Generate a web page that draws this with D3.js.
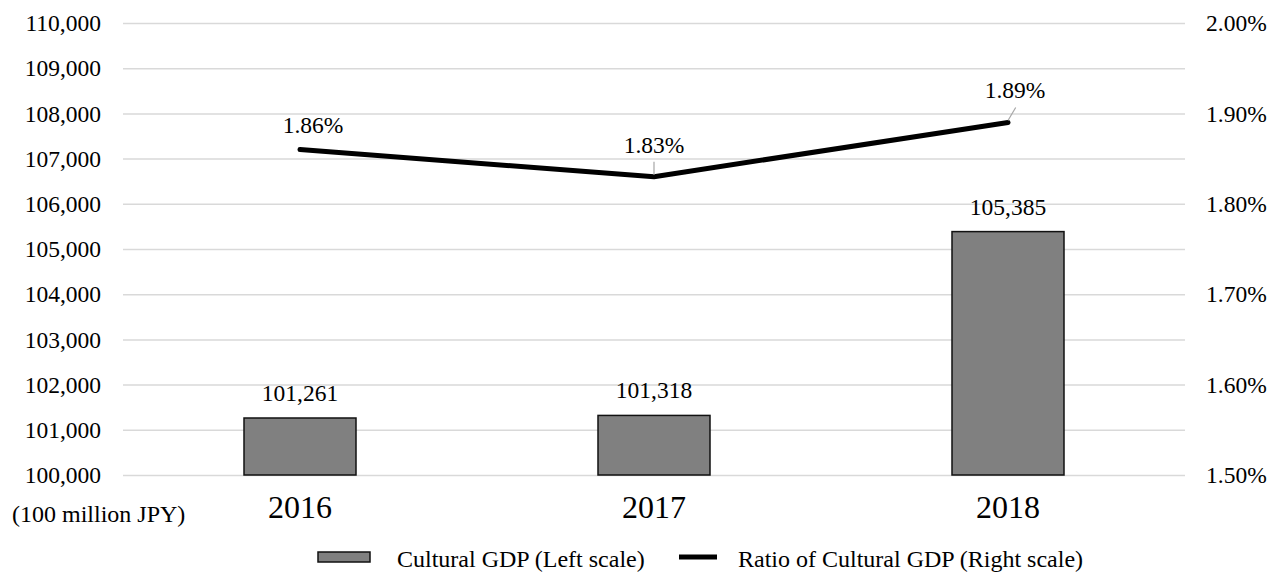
<!DOCTYPE html>
<html>
<head>
<meta charset="utf-8">
<script src="https://cdn.jsdelivr.net/npm/d3@7"></script>
<style>
  html, body { margin: 0; padding: 0; background: #fff; }
  svg { display: block; }
  svg text { font-family: "Liberation Serif", "Times New Roman", serif !important; }
</style>
</head>
<body>
<svg id="chart" width="1269" height="573"></svg>
<script>
// ---- data ----
const categories = ["2016", "2017", "2018"];
const gdpValues = [101261, 101318, 105385];
const ratioValues = [1.86, 1.83, 1.89];
const leftTicks = [100000, 101000, 102000, 103000, 104000, 105000, 106000, 107000, 108000, 109000, 110000];
const rightTicks = [1.5, 1.6, 1.7, 1.8, 1.9, 2.0];
const seriesNames = ["Cultural GDP (Left scale)", "Ratio of Cultural GDP (Right scale)"];
const unitLabel = "(100 million JPY)";

// ---- layout ----
const svg = d3.select("#chart");
const plot = { left: 123, right: 1185, top: 23, bottom: 475 };
const fs = 23.5;

const x = d3.scaleBand().domain(categories).range([plot.left, plot.right]).paddingInner(0).paddingOuter(0);
const yL = d3.scaleLinear().domain([100000, 110000]).range([plot.bottom, plot.top]);
const yR = d3.scaleLinear().domain([1.5, 2.0]).range([plot.bottom, plot.top]);

// gridlines
svg.append("g")
  .attr("transform", `translate(${plot.left},0)`)
  .call(d3.axisLeft(yL).tickValues(leftTicks).tickSize(-(plot.right - plot.left)).tickFormat(""))
  .call(g => g.select(".domain").remove())
  .call(g => g.selectAll("line").attr("stroke", "#d9d9d9").attr("stroke-width", 1.5));

// left axis labels
svg.append("g")
  .attr("transform", `translate(${plot.left - 22},0)`)
  .call(d3.axisLeft(yL).tickValues(leftTicks).tickSize(0).tickPadding(0).tickFormat(d3.format(",")))
  .call(g => g.select(".domain").remove())
  .call(g => g.selectAll("text").attr("font-size", fs).attr("fill", "#000").attr("dy", "0.33em"));

// right axis labels
svg.append("g")
  .attr("transform", `translate(${plot.right + 21},0)`)
  .call(d3.axisRight(yR).tickValues(rightTicks).tickSize(0).tickPadding(0).tickFormat(d => d3.format(".2f")(d) + "%"))
  .call(g => g.select(".domain").remove())
  .call(g => g.selectAll("text").attr("font-size", fs).attr("fill", "#000").attr("dy", "0.33em"));

// x category labels
svg.append("g")
  .attr("transform", `translate(0,${plot.bottom})`)
  .call(d3.axisBottom(x).tickSize(0).tickPadding(0))
  .call(g => g.select(".domain").remove())
  .call(g => g.selectAll("text").attr("font-size", 32).attr("fill", "#000").attr("dy", null).attr("y", 43));

// unit label
svg.append("text").attr("x", 12).attr("y", 522).attr("font-size", 24).attr("fill", "#000").text(unitLabel);

// bars
const barW = 112;
svg.append("g").selectAll("rect").data(gdpValues).join("rect")
  .attr("x", (d, i) => x(categories[i]) + x.bandwidth() / 2 - barW / 2)
  .attr("y", d => yL(d))
  .attr("width", barW)
  .attr("height", d => yL(100000) - yL(d))
  .attr("fill", "#808080")
  .attr("stroke", "#111")
  .attr("stroke-width", 1.5);

// bar labels
svg.append("g").selectAll("text").data(gdpValues).join("text")
  .attr("x", (d, i) => x(categories[i]) + x.bandwidth() / 2)
  .attr("y", d => yL(d) - 17)
  .attr("text-anchor", "middle")
  .attr("font-size", fs).attr("fill", "#000")
  .text(d => d3.format(",")(d));

// line
const cx = i => x(categories[i]) + x.bandwidth() / 2;
const line = d3.line().x((d, i) => cx(i)).y(d => yR(d));
svg.append("path").datum(ratioValues)
  .attr("d", line)
  .attr("fill", "none").attr("stroke", "#000").attr("stroke-width", 5)
  .attr("stroke-linecap", "round").attr("stroke-linejoin", "round");

// line labels (offsets = styling)
const labelOffsets = [{dx: 13, dy: -17, leader: false}, {dx: 0, dy: -24, leader: true}, {dx: 7, dy: -24, leader: true}];
const lbl = svg.append("g");
ratioValues.forEach((v, i) => {
  const px = cx(i), py = yR(v), o = labelOffsets[i];
  if (o.leader) {
    lbl.append("line")
      .attr("x1", px + o.dx * 1.1).attr("y1", py + o.dy + 9)
      .attr("x2", px).attr("y2", py - 2)
      .attr("stroke", "#a6a6a6").attr("stroke-width", 1.2);
  }
  lbl.append("text")
    .attr("x", px + o.dx).attr("y", py + o.dy)
    .attr("text-anchor", "middle").attr("font-size", fs).attr("fill", "#000")
    .text(d3.format(".2f")(v) + "%");
});

// legend
const lg = svg.append("g");
lg.append("rect").attr("x", 318).attr("y", 552).attr("width", 52).attr("height", 10)
  .attr("fill", "#808080").attr("stroke", "#111").attr("stroke-width", 1.5);
lg.append("text").attr("x", 397).attr("y", 567).attr("font-size", 24).attr("fill", "#000").text(seriesNames[0]);
lg.append("line").attr("x1", 679).attr("x2", 717).attr("y1", 557).attr("y2", 557)
  .attr("stroke", "#000").attr("stroke-width", 5);
lg.append("text").attr("x", 738).attr("y", 567).attr("font-size", 24).attr("fill", "#000").text(seriesNames[1]);
</script>
</body>
</html>
